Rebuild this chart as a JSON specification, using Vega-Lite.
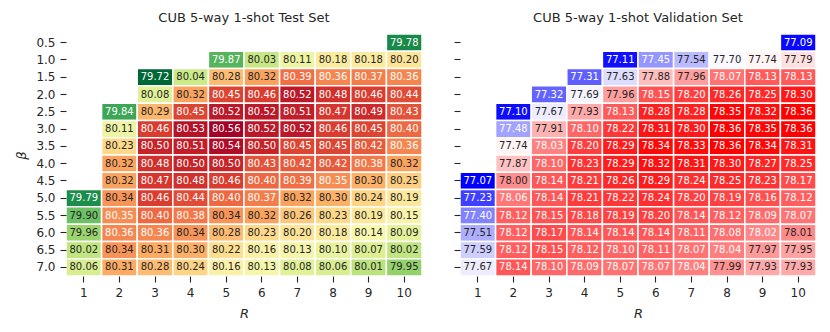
{
  "$schema": "https://vega.github.io/schema/vega-lite/v6.json",
  "padding": {"left": 15, "top": 12, "right": 5, "bottom": 5},
  "background": "white",
  "config": {
    "view": {"stroke": null},
    "font": "DejaVu Sans",
    "title": {"fontSize": 13, "fontWeight": "normal", "color": "#262626", "offset": 8, "font": "DejaVu Sans"},
    "axis": {"domain": false, "grid": false, "tickColor": "#262626", "tickWidth": 1.1, "tickSize": 6, "labelFontSize": 12, "labelColor": "#262626", "labelFont": "DejaVu Sans", "labelPadding": 5, "titleFont": "DejaVu Sans", "titleFontSize": 13, "titleFontWeight": "normal", "titleFontStyle": "italic", "titleColor": "#262626"},
    "concat": {"spacing": 30}
  },
  "datasets": {
    "test": [
      {"beta":"0.5","R":10,"acc":79.78},
      {"beta":"1.0","R":5,"acc":79.87},{"beta":"1.0","R":6,"acc":80.03},{"beta":"1.0","R":7,"acc":80.11},{"beta":"1.0","R":8,"acc":80.18},{"beta":"1.0","R":9,"acc":80.18},{"beta":"1.0","R":10,"acc":80.20},
      {"beta":"1.5","R":3,"acc":79.72},{"beta":"1.5","R":4,"acc":80.04},{"beta":"1.5","R":5,"acc":80.28},{"beta":"1.5","R":6,"acc":80.32},{"beta":"1.5","R":7,"acc":80.39},{"beta":"1.5","R":8,"acc":80.36},{"beta":"1.5","R":9,"acc":80.37},{"beta":"1.5","R":10,"acc":80.36},
      {"beta":"2.0","R":3,"acc":80.08},{"beta":"2.0","R":4,"acc":80.32},{"beta":"2.0","R":5,"acc":80.45},{"beta":"2.0","R":6,"acc":80.46},{"beta":"2.0","R":7,"acc":80.52},{"beta":"2.0","R":8,"acc":80.48},{"beta":"2.0","R":9,"acc":80.46},{"beta":"2.0","R":10,"acc":80.44},
      {"beta":"2.5","R":2,"acc":79.84},{"beta":"2.5","R":3,"acc":80.29},{"beta":"2.5","R":4,"acc":80.45},{"beta":"2.5","R":5,"acc":80.52},{"beta":"2.5","R":6,"acc":80.52},{"beta":"2.5","R":7,"acc":80.51},{"beta":"2.5","R":8,"acc":80.47},{"beta":"2.5","R":9,"acc":80.49},{"beta":"2.5","R":10,"acc":80.43},
      {"beta":"3.0","R":2,"acc":80.11},{"beta":"3.0","R":3,"acc":80.46},{"beta":"3.0","R":4,"acc":80.53},{"beta":"3.0","R":5,"acc":80.56},{"beta":"3.0","R":6,"acc":80.52},{"beta":"3.0","R":7,"acc":80.52},{"beta":"3.0","R":8,"acc":80.46},{"beta":"3.0","R":9,"acc":80.45},{"beta":"3.0","R":10,"acc":80.40},
      {"beta":"3.5","R":2,"acc":80.23},{"beta":"3.5","R":3,"acc":80.50},{"beta":"3.5","R":4,"acc":80.51},{"beta":"3.5","R":5,"acc":80.54},{"beta":"3.5","R":6,"acc":80.50},{"beta":"3.5","R":7,"acc":80.45},{"beta":"3.5","R":8,"acc":80.45},{"beta":"3.5","R":9,"acc":80.42},{"beta":"3.5","R":10,"acc":80.36},
      {"beta":"4.0","R":2,"acc":80.32},{"beta":"4.0","R":3,"acc":80.48},{"beta":"4.0","R":4,"acc":80.50},{"beta":"4.0","R":5,"acc":80.50},{"beta":"4.0","R":6,"acc":80.43},{"beta":"4.0","R":7,"acc":80.42},{"beta":"4.0","R":8,"acc":80.42},{"beta":"4.0","R":9,"acc":80.38},{"beta":"4.0","R":10,"acc":80.32},
      {"beta":"4.5","R":2,"acc":80.32},{"beta":"4.5","R":3,"acc":80.47},{"beta":"4.5","R":4,"acc":80.48},{"beta":"4.5","R":5,"acc":80.46},{"beta":"4.5","R":6,"acc":80.40},{"beta":"4.5","R":7,"acc":80.39},{"beta":"4.5","R":8,"acc":80.35},{"beta":"4.5","R":9,"acc":80.30},{"beta":"4.5","R":10,"acc":80.25},
      {"beta":"5.0","R":1,"acc":79.79},{"beta":"5.0","R":2,"acc":80.34},{"beta":"5.0","R":3,"acc":80.46},{"beta":"5.0","R":4,"acc":80.44},{"beta":"5.0","R":5,"acc":80.40},{"beta":"5.0","R":6,"acc":80.37},{"beta":"5.0","R":7,"acc":80.32},{"beta":"5.0","R":8,"acc":80.30},{"beta":"5.0","R":9,"acc":80.24},{"beta":"5.0","R":10,"acc":80.19},
      {"beta":"5.5","R":1,"acc":79.90},{"beta":"5.5","R":2,"acc":80.35},{"beta":"5.5","R":3,"acc":80.40},{"beta":"5.5","R":4,"acc":80.38},{"beta":"5.5","R":5,"acc":80.34},{"beta":"5.5","R":6,"acc":80.32},{"beta":"5.5","R":7,"acc":80.26},{"beta":"5.5","R":8,"acc":80.23},{"beta":"5.5","R":9,"acc":80.19},{"beta":"5.5","R":10,"acc":80.15},
      {"beta":"6.0","R":1,"acc":79.96},{"beta":"6.0","R":2,"acc":80.36},{"beta":"6.0","R":3,"acc":80.36},{"beta":"6.0","R":4,"acc":80.34},{"beta":"6.0","R":5,"acc":80.28},{"beta":"6.0","R":6,"acc":80.23},{"beta":"6.0","R":7,"acc":80.20},{"beta":"6.0","R":8,"acc":80.18},{"beta":"6.0","R":9,"acc":80.14},{"beta":"6.0","R":10,"acc":80.09},
      {"beta":"6.5","R":1,"acc":80.02},{"beta":"6.5","R":2,"acc":80.34},{"beta":"6.5","R":3,"acc":80.31},{"beta":"6.5","R":4,"acc":80.30},{"beta":"6.5","R":5,"acc":80.22},{"beta":"6.5","R":6,"acc":80.16},{"beta":"6.5","R":7,"acc":80.13},{"beta":"6.5","R":8,"acc":80.10},{"beta":"6.5","R":9,"acc":80.07},{"beta":"6.5","R":10,"acc":80.02},
      {"beta":"7.0","R":1,"acc":80.06},{"beta":"7.0","R":2,"acc":80.31},{"beta":"7.0","R":3,"acc":80.28},{"beta":"7.0","R":4,"acc":80.24},{"beta":"7.0","R":5,"acc":80.16},{"beta":"7.0","R":6,"acc":80.13},{"beta":"7.0","R":7,"acc":80.08},{"beta":"7.0","R":8,"acc":80.06},{"beta":"7.0","R":9,"acc":80.01},{"beta":"7.0","R":10,"acc":79.95}
    ],
    "val": [
      {"beta":"0.5","R":10,"acc":77.09},
      {"beta":"1.0","R":5,"acc":77.11},{"beta":"1.0","R":6,"acc":77.45},{"beta":"1.0","R":7,"acc":77.54},{"beta":"1.0","R":8,"acc":77.70},{"beta":"1.0","R":9,"acc":77.74},{"beta":"1.0","R":10,"acc":77.79},
      {"beta":"1.5","R":4,"acc":77.31},{"beta":"1.5","R":5,"acc":77.63},{"beta":"1.5","R":6,"acc":77.88},{"beta":"1.5","R":7,"acc":77.96},{"beta":"1.5","R":8,"acc":78.07},{"beta":"1.5","R":9,"acc":78.13},{"beta":"1.5","R":10,"acc":78.13},
      {"beta":"2.0","R":3,"acc":77.32},{"beta":"2.0","R":4,"acc":77.69},{"beta":"2.0","R":5,"acc":77.96},{"beta":"2.0","R":6,"acc":78.15},{"beta":"2.0","R":7,"acc":78.20},{"beta":"2.0","R":8,"acc":78.26},{"beta":"2.0","R":9,"acc":78.25},{"beta":"2.0","R":10,"acc":78.30},
      {"beta":"2.5","R":2,"acc":77.10},{"beta":"2.5","R":3,"acc":77.67},{"beta":"2.5","R":4,"acc":77.93},{"beta":"2.5","R":5,"acc":78.13},{"beta":"2.5","R":6,"acc":78.28},{"beta":"2.5","R":7,"acc":78.28},{"beta":"2.5","R":8,"acc":78.35},{"beta":"2.5","R":9,"acc":78.32},{"beta":"2.5","R":10,"acc":78.36},
      {"beta":"3.0","R":2,"acc":77.48},{"beta":"3.0","R":3,"acc":77.91},{"beta":"3.0","R":4,"acc":78.10},{"beta":"3.0","R":5,"acc":78.22},{"beta":"3.0","R":6,"acc":78.31},{"beta":"3.0","R":7,"acc":78.30},{"beta":"3.0","R":8,"acc":78.36},{"beta":"3.0","R":9,"acc":78.35},{"beta":"3.0","R":10,"acc":78.36},
      {"beta":"3.5","R":2,"acc":77.74},{"beta":"3.5","R":3,"acc":78.03},{"beta":"3.5","R":4,"acc":78.20},{"beta":"3.5","R":5,"acc":78.29},{"beta":"3.5","R":6,"acc":78.34},{"beta":"3.5","R":7,"acc":78.33},{"beta":"3.5","R":8,"acc":78.36},{"beta":"3.5","R":9,"acc":78.34},{"beta":"3.5","R":10,"acc":78.31},
      {"beta":"4.0","R":2,"acc":77.87},{"beta":"4.0","R":3,"acc":78.10},{"beta":"4.0","R":4,"acc":78.23},{"beta":"4.0","R":5,"acc":78.29},{"beta":"4.0","R":6,"acc":78.32},{"beta":"4.0","R":7,"acc":78.31},{"beta":"4.0","R":8,"acc":78.30},{"beta":"4.0","R":9,"acc":78.27},{"beta":"4.0","R":10,"acc":78.25},
      {"beta":"4.5","R":1,"acc":77.07},{"beta":"4.5","R":2,"acc":78.00},{"beta":"4.5","R":3,"acc":78.14},{"beta":"4.5","R":4,"acc":78.21},{"beta":"4.5","R":5,"acc":78.26},{"beta":"4.5","R":6,"acc":78.29},{"beta":"4.5","R":7,"acc":78.24},{"beta":"4.5","R":8,"acc":78.25},{"beta":"4.5","R":9,"acc":78.23},{"beta":"4.5","R":10,"acc":78.17},
      {"beta":"5.0","R":1,"acc":77.23},{"beta":"5.0","R":2,"acc":78.06},{"beta":"5.0","R":3,"acc":78.14},{"beta":"5.0","R":4,"acc":78.21},{"beta":"5.0","R":5,"acc":78.22},{"beta":"5.0","R":6,"acc":78.24},{"beta":"5.0","R":7,"acc":78.20},{"beta":"5.0","R":8,"acc":78.19},{"beta":"5.0","R":9,"acc":78.16},{"beta":"5.0","R":10,"acc":78.12},
      {"beta":"5.5","R":1,"acc":77.40},{"beta":"5.5","R":2,"acc":78.12},{"beta":"5.5","R":3,"acc":78.15},{"beta":"5.5","R":4,"acc":78.18},{"beta":"5.5","R":5,"acc":78.19},{"beta":"5.5","R":6,"acc":78.20},{"beta":"5.5","R":7,"acc":78.14},{"beta":"5.5","R":8,"acc":78.12},{"beta":"5.5","R":9,"acc":78.09},{"beta":"5.5","R":10,"acc":78.07},
      {"beta":"6.0","R":1,"acc":77.51},{"beta":"6.0","R":2,"acc":78.12},{"beta":"6.0","R":3,"acc":78.17},{"beta":"6.0","R":4,"acc":78.14},{"beta":"6.0","R":5,"acc":78.14},{"beta":"6.0","R":6,"acc":78.14},{"beta":"6.0","R":7,"acc":78.11},{"beta":"6.0","R":8,"acc":78.08},{"beta":"6.0","R":9,"acc":78.02},{"beta":"6.0","R":10,"acc":78.01},
      {"beta":"6.5","R":1,"acc":77.59},{"beta":"6.5","R":2,"acc":78.12},{"beta":"6.5","R":3,"acc":78.15},{"beta":"6.5","R":4,"acc":78.12},{"beta":"6.5","R":5,"acc":78.10},{"beta":"6.5","R":6,"acc":78.11},{"beta":"6.5","R":7,"acc":78.07},{"beta":"6.5","R":8,"acc":78.04},{"beta":"6.5","R":9,"acc":77.97},{"beta":"6.5","R":10,"acc":77.95},
      {"beta":"7.0","R":1,"acc":77.67},{"beta":"7.0","R":2,"acc":78.14},{"beta":"7.0","R":3,"acc":78.10},{"beta":"7.0","R":4,"acc":78.09},{"beta":"7.0","R":5,"acc":78.07},{"beta":"7.0","R":6,"acc":78.07},{"beta":"7.0","R":7,"acc":78.04},{"beta":"7.0","R":8,"acc":77.99},{"beta":"7.0","R":9,"acc":77.93},{"beta":"7.0","R":10,"acc":77.93}
    ]
  },
  "hconcat": [
    {
      "title": "CUB 5-way 1-shot Test Set",
      "width": 356,
      "height": 242,
      "data": {"name": "test"},
      "encoding": {
        "x": {"field": "R", "type": "ordinal", "scale": {"domain": [1,2,3,4,5,6,7,8,9,10]}, "axis": {"labelAngle": 0, "title": "R", "titlePadding": 9}},
        "y": {"field": "beta", "type": "ordinal", "scale": {"domain": ["0.5","1.0","1.5","2.0","2.5","3.0","3.5","4.0","4.5","5.0","5.5","6.0","6.5","7.0"]}, "axis": {"title": "β", "titlePadding": 7}}
      },
      "layer": [
        {"mark": {"type": "rect", "stroke": "white", "strokeWidth": 1.5},
         "encoding": {"color": {"field": "acc", "type": "quantitative", "scale": {"scheme": "redyellowgreen", "reverse": true, "domain": [79.72, 80.56]}, "legend": null}}},
        {"mark": {"type": "text", "fontSize": 10, "font": "DejaVu Sans"},
         "encoding": {"text": {"field": "acc", "type": "quantitative", "format": ".2f"},
                      "color": {"condition": {"test": "datum.acc >= 80.345 || datum.acc < 79.885", "value": "white"}, "value": "#262626"}}}
      ]
    },
    {
      "title": "CUB 5-way 1-shot Validation Set",
      "width": 356,
      "height": 242,
      "data": {"name": "val"},
      "encoding": {
        "x": {"field": "R", "type": "ordinal", "scale": {"domain": [1,2,3,4,5,6,7,8,9,10]}, "axis": {"labelAngle": 0, "title": "R", "titlePadding": 9}},
        "y": {"field": "beta", "type": "ordinal", "scale": {"domain": ["0.5","1.0","1.5","2.0","2.5","3.0","3.5","4.0","4.5","5.0","5.5","6.0","6.5","7.0"]}, "axis": {"title": null, "labels": false}}
      },
      "layer": [
        {"mark": {"type": "rect", "stroke": "white", "strokeWidth": 1.5},
         "encoding": {"color": {"field": "acc", "type": "quantitative", "scale": {"domain": [77.07, 77.715, 78.36], "range": ["#0000ff", "#ffffff", "#ff0000"], "interpolate": "rgb"}, "legend": null}}},
        {"mark": {"type": "text", "fontSize": 10, "font": "DejaVu Sans"},
         "encoding": {"text": {"field": "acc", "type": "quantitative", "format": ".2f"},
                      "color": {"condition": {"test": "datum.acc >= 78.015 || datum.acc < 77.5", "value": "white"}, "value": "#262626"}}}
      ]
    }
  ],
  "resolve": {"scale": {"color": "independent"}}
}
